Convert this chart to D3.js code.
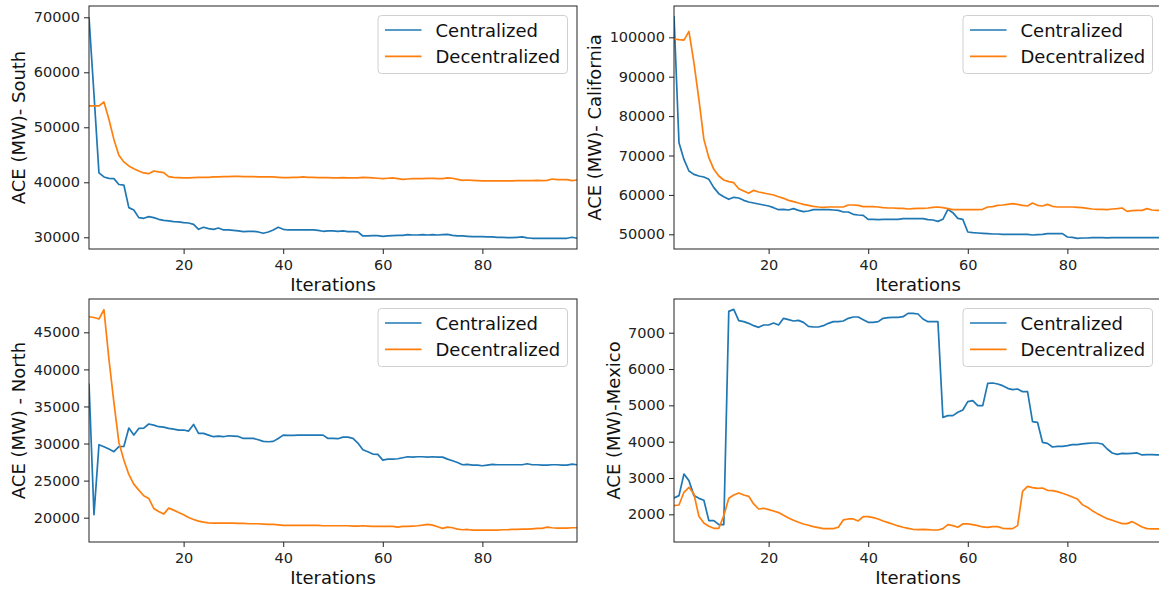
<!DOCTYPE html>
<html>
<head>
<meta charset="utf-8">
<script src="https://cdn.jsdelivr.net/npm/d3@7"></script>
<style>
  html, body { margin: 0; padding: 0; background: #fff; }
  svg { display: block; font-family: "DejaVu Sans", sans-serif; }
</style>
</head>
<body>
<svg id="chart" width="1159" height="590"></svg>
<script>
// ---------- DATA ----------
const iterations = d3.range(1, 100);
const seriesNames = ["Centralized", "Decentralized"];
const xTicks = [20, 40, 60, 80];
const xLabel = "Iterations";

const southCentralized = [70000,56000,41700,40970,40720,40660,39600,39500,35390,34970,33570,33450,33750,33570,33270,33090,32970,32850,32790,32670,32600,32360,31450,31820,31580,31450,31690,31330,31330,31270,31150,31030,31090,31090,30970,30725,30970,31330,31820,31450,31330,31330,31330,31330,31330,31330,31270,31090,31150,31150,31090,31150,31030,31030,30970,30240,30240,30300,30300,30180,30240,30300,30360,30360,30480,30420,30420,30480,30420,30480,30420,30480,30540,30360,30240,30240,30180,30120,30120,30120,30060,30060,30000,30000,29940,29940,30000,30060,29880,29820,29820,29820,29820,29820,29820,29820,29820,30000,29820];
const southDecentralized = [53900,53900,53900,54600,51450,47800,44900,43700,42970,42480,42060,41700,41575,42060,41880,41755,41030,40910,40850,40790,40790,40850,40910,40900,40900,40970,40970,41030,41030,41090,41090,41030,41030,41030,40970,40970,40970,40970,40910,40850,40850,40910,40910,40970,40910,40910,40850,40850,40850,40790,40790,40850,40790,40790,40790,40910,40850,40790,40730,40665,40730,40790,40665,40540,40600,40660,40660,40660,40720,40720,40660,40660,40790,40730,40540,40360,40420,40360,40300,40240,40240,40240,40240,40240,40240,40240,40300,40300,40300,40300,40360,40300,40360,40600,40480,40480,40480,40300,40420];

const californiaCentralized = [105400,73260,69000,66070,65220,64800,64545,63950,61840,60315,59550,58880,59385,59215,58620,58200,57945,57690,57440,57185,56760,56250,56340,56170,56510,56085,55745,55915,56250,56250,56250,56250,56170,56085,55660,55660,55070,54900,54815,53800,53800,53710,53800,53800,53800,53800,53970,53970,53970,53970,53970,53710,53630,53290,53800,56340,55490,54055,53800,50585,50415,50330,50250,50165,50080,50080,50000,50000,50000,50000,50000,50000,49825,49910,50000,50165,50165,50165,50165,49315,49230,48980,49060,49060,49140,49140,49140,49100,49140,49140,49140,49140,49140,49140,49140,49140,49140,49140,49140];
const californiaDecentralized = [99570,99400,99300,101500,93560,84250,74100,69450,66490,64800,63780,63360,63105,61580,60990,60400,61160,60740,60485,60230,59975,59550,59130,58620,58280,57945,57605,57350,57100,56930,56845,56930,56930,56930,56930,57440,57440,57350,57015,57015,57015,56930,56760,56680,56680,56590,56590,56425,56510,56590,56590,56680,56850,56930,56760,56510,56255,56255,56255,56255,56255,56255,56340,56930,57015,57350,57440,57605,57775,57605,57350,57185,57945,57350,57185,57605,57100,56930,56930,56930,56930,56850,56760,56590,56425,56340,56340,56255,56425,56510,56680,55830,56000,56085,56085,56510,56170,56085,56085];

const northCentralized = [38100,20400,29840,29570,29250,28900,29570,29610,32090,31140,32040,32090,32630,32490,32270,32220,32040,31950,31820,31820,31680,32580,31370,31370,31140,30920,31010,30920,31050,31010,30960,30690,30690,30690,30510,30290,30240,30290,30690,31140,31100,31100,31140,31140,31140,31140,31140,31140,30690,30690,30650,30870,30870,30690,30060,29160,28890,28580,28530,27770,27900,27900,27950,28080,28220,28170,28220,28220,28170,28220,28170,28170,27900,27680,27450,27140,27180,27090,27090,27000,27090,27180,27140,27140,27140,27140,27140,27140,27270,27140,27140,27090,27090,27140,27140,27090,27090,27230,27140];
const northDecentralized = [47100,47000,46800,48055,41400,35550,30150,27770,25830,24530,23720,22960,22600,21250,20840,20480,21290,21020,20710,20390,20030,19760,19540,19400,19310,19270,19270,19270,19270,19270,19220,19220,19180,19180,19180,19130,19090,19090,19040,18950,18950,18950,18950,18950,18950,18950,18950,18910,18910,18910,18910,18910,18910,18860,18860,18910,18860,18820,18820,18820,18820,18820,18730,18820,18820,18860,18910,18990,19090,18990,18770,18550,18730,18640,18460,18370,18410,18320,18320,18320,18320,18320,18320,18370,18370,18410,18410,18460,18460,18500,18550,18550,18720,18640,18590,18590,18590,18640,18640];

const mexicoCentralized = [2450,2515,3110,2928,2515,2440,2386,1826,1826,1716,1716,7588,7643,7331,7304,7258,7194,7148,7212,7212,7267,7212,7396,7359,7322,7340,7285,7175,7157,7157,7194,7258,7304,7304,7322,7396,7432,7432,7359,7285,7285,7304,7396,7414,7423,7423,7441,7533,7533,7515,7377,7304,7304,7304,4670,4716,4716,4808,4872,5102,5129,4992,4992,5606,5615,5588,5542,5469,5432,5450,5377,5377,4551,4533,3982,3955,3854,3872,3872,3890,3918,3918,3937,3955,3964,3964,3937,3799,3689,3652,3680,3670,3680,3689,3634,3643,3643,3634,3634];
const mexicoDecentralized = [2239,2257,2606,2744,2560,1946,1762,1670,1615,1615,1964,2441,2533,2588,2533,2496,2285,2147,2166,2129,2092,2047,1973,1900,1836,1781,1735,1698,1661,1634,1606,1606,1606,1643,1845,1872,1872,1817,1936,1936,1909,1872,1817,1771,1725,1680,1643,1615,1588,1578,1588,1578,1569,1569,1606,1716,1689,1643,1735,1735,1716,1689,1652,1643,1661,1661,1615,1606,1606,1689,2634,2771,2735,2716,2725,2661,2652,2624,2579,2533,2478,2423,2267,2193,2101,2019,1946,1881,1836,1790,1744,1744,1799,1725,1652,1606,1597,1597,1597];

const yLabels = ["ACE (MW)- South", "ACE (MW)- California", "ACE (MW) - North", "ACE (MW)-Mexico"];
const southTicks = [30000, 40000, 50000, 60000, 70000];
const californiaTicks = [50000, 60000, 70000, 80000, 90000, 100000];
const northTicks = [20000, 25000, 30000, 35000, 40000, 45000];
const mexicoTicks = [2000, 3000, 4000, 5000, 6000, 7000];
const southDomain = [27870, 72055];
const californiaDomain = [46270, 107950];
const northDomain = [16720, 49494];
const mexicoDomain = [1238, 7928];

// ---------- LAYOUT ----------
const colors = ["#1f77b4", "#ff7f0e"];
const panels = [
  { series: [southCentralized, southDecentralized], ticks: southTicks, domain: southDomain, label: yLabels[0], x0: 89, y0: 6 },
  { series: [californiaCentralized, californiaDecentralized], ticks: californiaTicks, domain: californiaDomain, label: yLabels[1], x0: 674, y0: 6 },
  { series: [northCentralized, northDecentralized], ticks: northTicks, domain: northDomain, label: yLabels[2], x0: 89, y0: 299 },
  { series: [mexicoCentralized, mexicoDecentralized], ticks: mexicoTicks, domain: mexicoDomain, label: yLabels[3], x0: 674, y0: 299 }
];
const W = 488, H = 243;
const svg = d3.select("#chart");

panels.forEach((p, idx) => {
  const g = svg.append("g").attr("transform", `translate(${p.x0},${p.y0})`);
  const x = d3.scaleLinear().domain([1, 99]).range([0, W]);
  const y = d3.scaleLinear().domain(p.domain).range([H, 0]);

  const clipId = "clip" + idx;
  g.append("clipPath").attr("id", clipId).append("rect")
    .attr("x", 0).attr("y", 0).attr("width", W).attr("height", H);

  const line = d3.line().x((d, i) => x(iterations[i])).y(d => y(d));
  p.series.forEach((s, k) => {
    g.append("path").datum(s)
      .attr("clip-path", `url(#${clipId})`)
      .attr("fill", "none")
      .attr("stroke", colors[k])
      .attr("stroke-width", 1.7)
      .attr("stroke-linejoin", "round")
      .attr("d", line);
  });

  // axes
  const xa = g.append("g").attr("transform", `translate(0,${H})`)
    .call(d3.axisBottom(x).tickValues(xTicks).tickSize(5).tickPadding(6).tickFormat(d3.format("d")));
  const ya = g.append("g")
    .call(d3.axisLeft(y).tickValues(p.ticks).tickSize(5).tickPadding(4).tickFormat(d3.format("d")));
  [xa, ya].forEach(a => {
    a.select(".domain").remove();
    a.selectAll("line").attr("stroke", "#222").attr("stroke-width", 1);
    a.selectAll("text").attr("fill", "#222").style("font-size", "14.5px").style("font-family", "DejaVu Sans");
  });

  // spines
  g.append("rect").attr("x", 0).attr("y", 0).attr("width", W).attr("height", H)
    .attr("fill", "none").attr("stroke", "#222").attr("stroke-width", 1);

  // x label
  g.append("text").attr("x", W / 2).attr("y", H + 42)
    .attr("text-anchor", "middle").attr("fill", "#111")
    .style("font-size", "18px").text(xLabel);

  // y label positioned left of tick labels
  let minX = 0;
  ya.selectAll("text").each(function () {
    const b = this.getBBox();
    const tx = +d3.select(this.parentNode).attr("transform").match(/translate\(([-\d.]+)/)[1];
    minX = Math.min(minX, b.x + tx);
  });
  g.append("text")
    .attr("transform", `translate(${minX - 8.5},${H / 2}) rotate(-90)`)
    .attr("text-anchor", "middle").attr("fill", "#111")
    .style("font-size", "18px").text(p.label);

  // legend
  const lg = g.append("g").attr("transform", `translate(${W - 199},9.5)`);
  lg.append("rect").attr("width", 189.5).attr("height", 58).attr("rx", 3.5)
    .attr("fill", "#fff").attr("fill-opacity", 0.8)
    .attr("stroke", "#d0d0d0").attr("stroke-width", 1);
  seriesNames.forEach((name, k) => {
    const yy = 14.5 + k * 26.3;
    lg.append("line").attr("x1", 7).attr("x2", 43.5).attr("y1", yy).attr("y2", yy)
      .attr("stroke", colors[k]).attr("stroke-width", 1.7);
    lg.append("text").attr("x", 57.5).attr("y", yy).attr("dy", "0.38em")
      .attr("fill", "#111").style("font-size", "18px").text(name);
  });
});
</script>
</body>
</html>
